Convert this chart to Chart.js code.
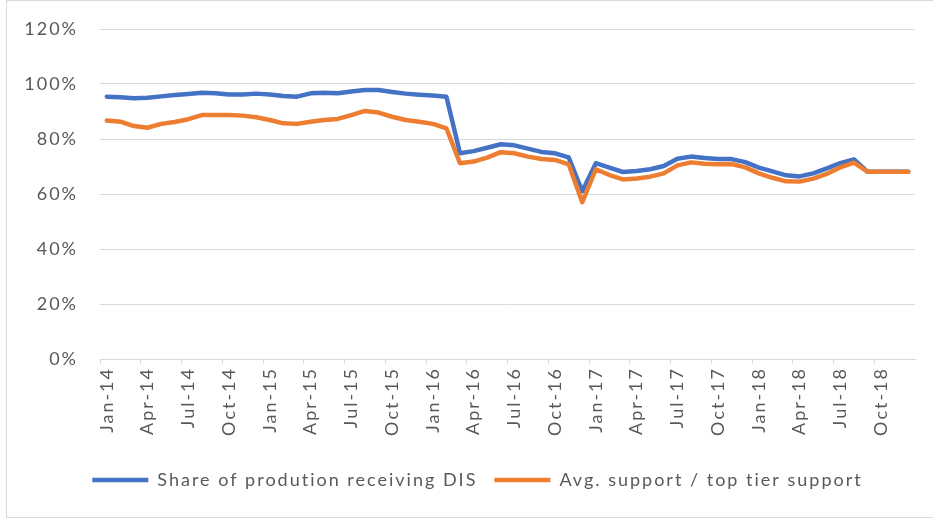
<!DOCTYPE html>
<html>
<head>
<meta charset="utf-8">
<script src="https://cdn.jsdelivr.net/npm/chart.js@4.4.1/dist/chart.umd.min.js"></script>
<style>
  body { margin: 0; background: #fff; }
  #wrap { position: relative; width: 933px; height: 519px; overflow: hidden; }
  #frame { position: absolute; left: 6px; top: 0; width: 960px; height: 516px; border: 1px solid #d9d9d9; }
  canvas { position: absolute; left: 0; top: 0; }
</style>
</head>
<body>
<div id="wrap">
  <div id="frame"></div>
  <canvas id="dis" width="933" height="519"></canvas>
</div>
<script>
const years = ["14", "15", "16", "17", "18"];
const monthNames = ["Jan", "Feb", "Mar", "Apr", "May", "Jun", "Jul", "Aug", "Sep", "Oct", "Nov", "Dec"];
const months = [];
years.forEach(y => monthNames.forEach(m => months.push(`${m}-${y}`)));

// share of production receiving DIS, %
const shareDIS = [
  95.4, 95.2, 94.8, 95.0, 95.5, 96.0, 96.4, 96.8, 96.6, 96.2, 96.2, 96.5,
  96.2, 95.6, 95.4, 96.6, 96.8, 96.6, 97.3, 97.8, 97.8, 97.1, 96.5, 96.1,
  95.8, 95.4, 74.8, 75.6, 76.8, 78.1, 77.7, 76.5, 75.3, 74.8, 73.3, 61.0,
  71.2, 69.6, 68.0, 68.4, 69.0, 70.2, 72.8, 73.6, 73.1, 72.7, 72.7, 71.6,
  69.6, 68.2, 66.8, 66.4, 67.5, 69.3, 71.2, 72.6, 68.1, 68.1, 68.1, 68.1
];
// average support / top tier support, %
const avgSupport = [
  86.7, 86.3, 84.7, 84.1, 85.5, 86.2, 87.2, 88.7, 88.7, 88.7, 88.5, 87.9,
  86.9, 85.7, 85.5, 86.3, 86.9, 87.3, 88.7, 90.2, 89.6, 88.1, 86.9, 86.3,
  85.5, 83.9, 71.2, 71.8, 73.2, 75.2, 74.8, 73.6, 72.7, 72.4, 70.8, 57.0,
  69.0, 66.9, 65.3, 65.6, 66.3, 67.5, 70.4, 71.5, 71.0, 70.8, 70.9, 69.7,
  67.5, 65.9, 64.6, 64.5, 65.6, 67.3, 69.7, 71.4, 68.1, 68.1, 68.1, 68.1
];
const seriesNames = ["Share of prodution receiving DIS", "Avg. support / top tier support"];

const font = "Lato, 'Liberation Sans', sans-serif";
const grey = "#595959";

const tweaks = {
  id: "tweaks",
  // the original text is a bit wider than Lato, so space the letters out
  beforeLayout(chart) { chart.ctx.letterSpacing = "2px"; },
  // legend sits a little right of centre in the original
  afterLayout(chart) { chart.legend.left += 35; }
};

new Chart(document.getElementById("dis").getContext("2d"), {
  type: "line",
  plugins: [tweaks],
  data: {
    labels: months,
    datasets: [{
      label: seriesNames[0],
      data: shareDIS,
      borderColor: "#4472C4",
      backgroundColor: "#4472C4",
      borderWidth: 4.5,
      borderCapStyle: "round",
      borderJoinStyle: "round",
      pointRadius: 0,
      tension: 0,
      order: 1
    }, {
      label: seriesNames[1],
      data: avgSupport,
      borderColor: "#ED7D31",
      backgroundColor: "#ED7D31",
      borderWidth: 4.5,
      borderCapStyle: "round",
      borderJoinStyle: "round",
      pointRadius: 0,
      tension: 0,
      order: 0
    }]
  },
  options: {
    responsive: false,
    animation: false,
    layout: { padding: { top: 29, right: 13, left: 0, bottom: 20 } },
    plugins: {
      tooltip: { enabled: false },
      legend: {
        position: "bottom",
        labels: {
          usePointStyle: true,
          pointStyle: "line",
          pointStyleWidth: 56,
          padding: 17,
          color: grey,
          font: { family: font, size: 18 },
          sort: (a, b) => a.datasetIndex - b.datasetIndex
        }
      }
    },
    scales: {
      x: {
        offset: true,
        grid: {
          offset: true,
          drawOnChartArea: false,
          tickLength: 5,
          color: c => (c.index % 3 === 0 ? "#d9d9d9" : "rgba(0,0,0,0)")
        },
        border: { color: "#d9d9d9" },
        ticks: {
          autoSkip: false,
          maxRotation: 90,
          minRotation: 90,
          padding: 3,
          color: grey,
          font: { family: font, size: 18 },
          callback: (v, i) => (i % 3 === 0 ? months[i] : "")
        },
        afterFit: s => { s.height = 95; }
      },
      y: {
        min: 0,
        max: 120,
        border: { display: false },
        grid: { color: "#d9d9d9", tickLength: 22, tickColor: "rgba(0,0,0,0)" },
        ticks: {
          stepSize: 20,
          padding: 0,
          color: grey,
          font: { family: font, size: 18 },
          callback: v => v + "%"
        },
        afterFit: s => { s.width = 100; }
      }
    }
  }
});
</script>
</body>
</html>
